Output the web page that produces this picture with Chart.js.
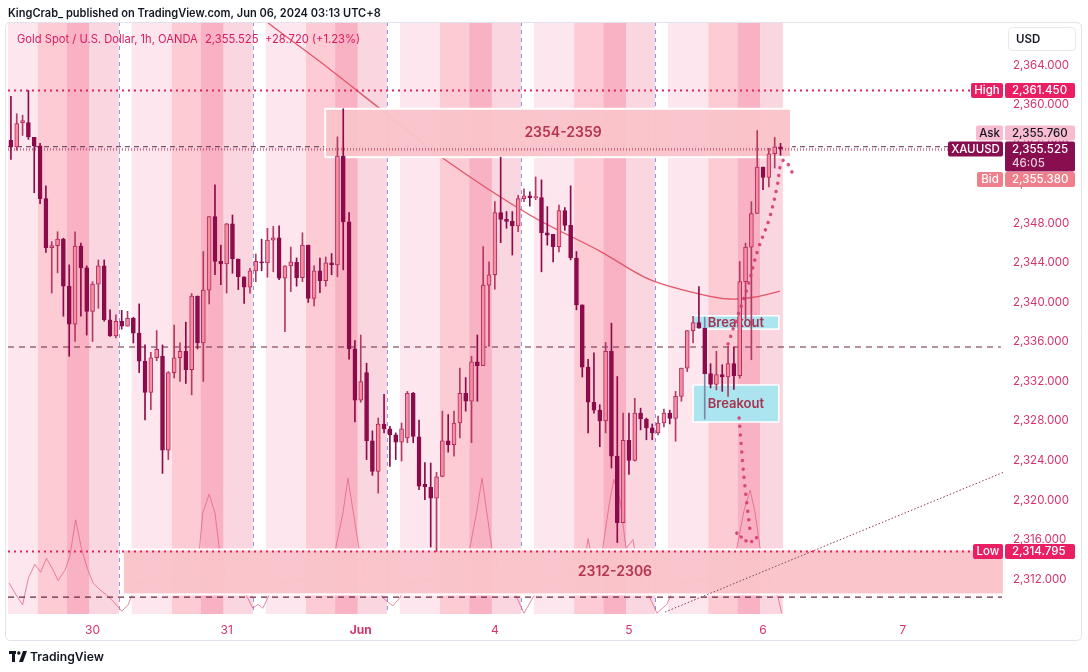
<!DOCTYPE html>
<html><head><meta charset="utf-8">
<script src="https://cdn.jsdelivr.net/npm/chart.js@4.4.1/dist/chart.umd.min.js"></script>
<style>html,body{margin:0;padding:0;background:#fff;}#wrap{width:1088px;height:672px;position:relative;}</style>
</head><body><div id="wrap"><canvas id="c" width="1088" height="672"></canvas></div>
<script>
// ---- OHLC data, 1h candles (index 0 = first visible bar, 132 = current bar) ----
const opens=[2356.4,2355.75,2358.2,2358.2,2356.7,2355.85,2350.5,2345.55,2345.75,2346.4,2341.65,2337.8,2345.7,2343.5,2339.1,2341.85,2343.7,2338.25,2336.6,2338.1,2337.6,2338.4,2336.9,2334.05,2330.9,2334.4,2334.55,2325.05,2332.9,2334.4,2335.05,2333.2,2340.65,2335.9,2341.25,2348.7,2344.15,2343.9,2347.95,2344.4,2342.6,2341.55,2343.2,2344.1,2344.0,2346.3,2346.55,2342.45,2343.7,2344.05,2342.5,2345.8,2340.4,2343.2,2342.2,2344.0,2343.8,2354.8,2348.15,2335.3,2330.1,2332.9,2326.0,2322.9,2327.7,2327.2,2326.6,2325.85,2326.3,2330.8,2326.4,2321.6,2321.3,2320.2,2322.4,2326.0,2325.6,2327.8,2330.8,2330.0,2334.0,2333.6,2341.75,2342.8,2349.1,2348.4,2348.2,2347.75,2350.5,2350.8,2350.6,2350.6,2347.05,2346.9,2345.65,2349.3,2347.8,2344.5,2339.75,2333.45,2329.9,2329.1,2328.0,2335.05,2324.45,2317.7,2326.05,2324.0,2328.8,2328.2,2327.3,2326.8,2327.8,2328.8,2328.25,2330.5,2333.35,2337.15,2337.95,2337.4,2332.8,2331.7,2332.7,2332.45,2333.8,2332.6,2342.1,2345.6,2349.0,2353.7,2352.65,2355.05,2355.75];
const highs=[2360.86,2359.1,2358.95,2361.45,2356.7,2356.1,2351.8,2346.15,2347.15,2346.5,2343.8,2347.15,2346.0,2343.7,2342.1,2344.3,2344.3,2339.25,2338.75,2339.2,2339.1,2338.5,2339.85,2335.7,2334.95,2337.15,2335.7,2333.0,2337.7,2335.9,2338.0,2340.9,2340.65,2345.15,2348.7,2351.9,2345.8,2348.0,2348.85,2344.4,2342.6,2343.45,2344.9,2346.4,2347.5,2347.7,2347.75,2343.7,2345.6,2344.5,2347.05,2345.8,2343.7,2344.5,2344.6,2344.95,2356.75,2359.6,2349.1,2336.15,2336.7,2333.85,2327.0,2328.3,2330.7,2327.45,2326.8,2327.8,2331.0,2330.9,2328.1,2323.8,2323.75,2322.8,2329.0,2328.65,2329.0,2333.35,2332.4,2334.55,2336.7,2345.65,2344.1,2350.2,2354.7,2349.2,2349.2,2350.85,2351.5,2351.2,2352.7,2352.4,2349.7,2346.9,2349.85,2349.6,2351.8,2345.15,2339.75,2334.25,2334.9,2329.65,2335.95,2337.9,2332.5,2328.8,2328.8,2330.3,2329.3,2328.3,2327.7,2328.5,2329.2,2329.1,2331.0,2333.35,2337.15,2338.6,2341.6,2338.5,2333.8,2335.05,2333.7,2335.55,2335.5,2344.15,2346.0,2350.2,2357.4,2353.7,2355.6,2356.7,2356.1];
const lows=[2354.47,2355.4,2356.9,2356.5,2351.1,2350.0,2345.05,2340.95,2343.0,2338.6,2334.55,2336.05,2338.6,2336.7,2336.05,2339.4,2338.1,2336.55,2336.4,2337.3,2337.6,2335.9,2332.9,2328.1,2329.15,2334.1,2322.7,2324.1,2332.35,2332.0,2331.8,2330.65,2335.3,2332.0,2339.85,2342.8,2341.8,2340.95,2342.95,2341.3,2339.9,2340.95,2342.1,2343.2,2342.55,2343.1,2342.3,2337.05,2341.1,2341.65,2342.1,2340.0,2339.65,2341.0,2341.65,2342.8,2342.6,2343.3,2334.25,2327.9,2329.9,2324.1,2322.5,2320.7,2326.8,2323.4,2324.1,2323.95,2325.8,2325.8,2321.05,2320.05,2315.25,2314.795,2322.35,2324.85,2324.45,2326.3,2329.0,2325.8,2330.0,2333.6,2335.55,2341.35,2346.05,2347.5,2344.8,2347.15,2350.2,2349.75,2350.4,2343.1,2345.8,2344.1,2345.1,2347.3,2344.3,2339.25,2332.45,2326.8,2328.8,2325.4,2326.8,2323.25,2315.7,2317.7,2322.6,2323.95,2327.1,2326.1,2326.1,2326.6,2327.4,2327.7,2325.95,2330.0,2333.0,2335.9,2337.4,2328.2,2331.35,2331.15,2331.0,2330.5,2331.2,2332.35,2338.3,2334.2,2349.0,2351.4,2351.7,2353.6,2354.9];
const closes=[2355.75,2358.1,2358.4,2356.75,2355.85,2350.5,2345.55,2345.75,2346.4,2341.65,2337.8,2345.7,2343.5,2339.1,2341.85,2343.7,2338.25,2336.6,2338.1,2337.6,2338.4,2336.9,2334.05,2330.9,2334.4,2335.25,2325.05,2332.9,2334.4,2335.05,2333.2,2340.65,2335.9,2341.25,2348.7,2344.15,2343.9,2347.95,2344.4,2342.6,2341.55,2343.2,2344.15,2344.0,2346.3,2346.55,2342.45,2343.7,2344.1,2342.5,2345.8,2340.4,2343.2,2342.2,2344.0,2343.8,2354.8,2348.15,2335.3,2330.1,2332.0,2326.0,2322.9,2327.7,2327.2,2326.6,2325.85,2327.2,2330.8,2326.45,2321.4,2321.35,2320.2,2322.35,2326.0,2325.6,2327.8,2330.8,2330.0,2334.0,2333.6,2341.75,2342.8,2349.1,2348.4,2348.2,2347.75,2350.5,2350.8,2350.6,2350.65,2347.05,2346.8,2345.65,2349.3,2347.8,2344.5,2339.75,2333.45,2329.9,2329.1,2328.0,2335.05,2324.45,2317.7,2326.05,2324.0,2328.8,2328.2,2327.3,2326.8,2327.8,2328.8,2328.25,2330.5,2333.35,2337.15,2337.95,2337.4,2332.8,2331.7,2332.7,2332.45,2333.8,2332.6,2342.1,2345.6,2349.0,2353.7,2352.65,2355.05,2355.75,2355.525];

// ---- axes ----
const dateTickIdx=[14,37,60,83,106,129,153];
const dateTickText=['30','31','Jun','4','5','6','7'];
const priceTicks=[2312,2316,2320,2324,2328,2332,2336,2340,2344,2348,2352,2356,2360,2364];
const sessionBreaks=[-4.5,18.5,41.5,64.5,87.5,110.5];
const lastBarIdx=132;

// ---- moving average curve ----
const maIdx=[41.5,44.3,52.7,63.1,74.1,89.0,101.0,109.6,118.2,123.3,127.6,131.9];
const maVal=[2369.6,2368.2,2364.5,2359.7,2354.6,2348.85,2345.2,2342.3,2340.85,2340.35,2340.55,2341.15];

// ---- lower indicator line ----
const indIdx=[-0.3,1.0,2.0,3.0,4.1,5.1,6.1,7.2,8.1,9.3,10.1,11.1,12.1,13.1,14.1,15.3,16.4,17.8,19.0,20.1,21.5,31.5,32.3,32.9,34.0,35.0,35.8,37,39.8,40.6,41.5,42.4,43.2,44.4,46,55,55.7,57.0,57.8,58.7,59.7,61,63.0,63.8,65.5,66.7,68,78,78.7,79.9,80.8,81.6,82.5,84,86.0,86.8,88.0,89.5,91,98.3,99.0,99.8,101.5,102.7,103.4,104.5,105.5,106.7,107.5,108.8,109.6,110.8,112.5,114,123.5,124.5,125.7,126.8,127.6,128.5,130,131.6,132.2];
const indVal=[2311.6,2310.3,2309.4,2312.1,2313.5,2312.7,2314.1,2312.95,2311.85,2312.95,2314.3,2318.0,2315.1,2313.1,2311.6,2310.9,2310.4,2309.6,2308.75,2309.4,2311.5,2312.5,2314.8,2318.7,2320.6,2318.7,2314.8,2312.0,2311.0,2310.1,2309.05,2309.45,2309.05,2310.55,2311.5,2312.5,2315.1,2318.85,2322.2,2318.85,2315.1,2312,2311.0,2310.1,2309.3,2310.1,2311.5,2312.5,2315.1,2318.85,2322.2,2318.85,2315.1,2312,2311.0,2310.1,2308.55,2310.1,2311.5,2313.5,2316.1,2313.5,2315.1,2319.9,2322.1,2319.9,2315.1,2316.0,2313,2311.0,2310.1,2308.55,2309.45,2311.5,2312.5,2315.1,2318.85,2321.0,2318.85,2315.1,2312,2310.1,2308.55];

// ---- projection paths ----
const projUpIdx=[123.0,124.5,126.2,128.1,130.0,131.4,132.1,132.8,133.6,134.3];
const projUpVal=[2335.8,2338.4,2341.26,2345.3,2348.34,2351.68,2354.11,2354.42,2353.6,2352.8];
const projDownIdx=[124.9,125.7,126.8];
const projDownVal=[2328.3,2322.53,2316.76];
const projUIdx=[124.5,125.5,126.6,127.6,128.5];
const projUVal=[2316.66,2316.15,2315.75,2316.05,2316.66];

// ---- levels ----
const highLevel=2361.45, lowLevel=2314.795;
const askPrice=2355.76, lastPrice=2355.525, bidPrice=2355.38;
const level1=2335.49, level2=2310.18;
const trendIdx=[112.2,170.2], trendVal=[2308.67,2322.8];

// ---- zones (time index range, price range, label) ----
const zoneTopIdx=[53.9,133.8], zoneTopVal=[2354.7,2359.6], zoneTopText='2354-2359', zoneTopTextIdx=94.7;
const zoneBotIdx=[19.2,170.3], zoneBotVal=[2310.45,2315.0], zoneBotText='2312-2306', zoneBotTextIdx=103.6;
const brk1Idx=[117.0,131.7], brk1Val=[2337.3,2338.65];
const brk2Idx=[117.0,131.7], brk2Val=[2327.9,2331.65];
const breakoutText='Breakout';

const FF='Inter, "Open Sans", Roboto, sans-serif';
const BULL_FILL='#f58ea3', BULL_LINE='#b52a5c', BEAR='#8c0b4a', BULL_WICK='#b43a63';

const pts=(xs,ys)=>xs.map((x,i)=>({x:x,y:ys[i]}));
const hline=(v,a,b)=>[{x:a,y:v},{x:b,y:v}];
const fmt=v=>v.toLocaleString('en-US',{minimumFractionDigits:3,maximumFractionDigits:3});
const isBull=i=>closes[i]>=opens[i];

function rr(ctx,x,y,w,h,r){ctx.beginPath();ctx.moveTo(x+r,y);ctx.lineTo(x+w-r,y);ctx.quadraticCurveTo(x+w,y,x+w,y+r);ctx.lineTo(x+w,y+h-r);ctx.quadraticCurveTo(x+w,y+h,x+w-r,y+h);ctx.lineTo(x+r,y+h);ctx.quadraticCurveTo(x,y+h,x,y+h-r);ctx.lineTo(x,y+r);ctx.quadraticCurveTo(x,y,x+r,y);ctx.closePath();}
function fitSize(ctx,text,weight,target){ctx.font=weight+' 20px '+FF;const w=ctx.measureText(text).width;return 20*target/w;}

function drawBox(chart,ix,pv,fill,stroke,lw){
  const xs=chart.scales.x, ys=chart.scales.y, ctx=chart.ctx;
  const L=xs.getPixelForValue(ix[0]), R=xs.getPixelForValue(ix[1]);
  const T=ys.getPixelForValue(pv[1]), B=ys.getPixelForValue(pv[0]);
  ctx.fillStyle=fill; ctx.fillRect(L,T,R-L,B-T);
  ctx.strokeStyle=stroke; ctx.lineWidth=lw; ctx.strokeRect(L,T,R-L,B-T);
  return {L,R,T,B};
}

function drawZones(chart){
  const ctx=chart.ctx, xs=chart.scales.x, ys=chart.scales.y;
  ctx.save();
  ctx.beginPath();ctx.rect(chart.chartArea.left,chart.chartArea.top,chart.chartArea.right-chart.chartArea.left,chart.chartArea.bottom-chart.chartArea.top);ctx.clip();
  drawBox(chart,zoneTopIdx,zoneTopVal,'rgba(250,196,202,0.96)','#ffffff',2);
  drawBox(chart,zoneBotIdx,zoneBotVal,'rgba(250,196,202,0.96)','#ffffff',2);
  ctx.font='600 14px '+FF; ctx.fillStyle='#b5344f'; ctx.textAlign='center'; ctx.textBaseline='middle';
  ctx.fillText(zoneTopText,xs.getPixelForValue(zoneTopTextIdx),ys.getPixelForValue((zoneTopVal[0]+zoneTopVal[1])/2));
  ctx.fillText(zoneBotText,xs.getPixelForValue(zoneBotTextIdx),ys.getPixelForValue((zoneBotVal[0]+zoneBotVal[1])/2));
  const b1=drawBox(chart,brk1Idx,brk1Val,'rgba(168,229,240,0.97)','#ffffff',1.5);
  const b2=drawBox(chart,brk2Idx,brk2Val,'rgba(168,229,240,0.97)','#ffffff',1.5);
  ctx.font='600 13px '+FF; ctx.fillStyle='#a8324f';
  ctx.fillText(breakoutText,(b1.L+b1.R)/2,(b1.T+b1.B)/2+0.5);
  ctx.fillText(breakoutText,(b2.L+b2.R)/2,(b2.T+b2.B)/2+0.5);
  ctx.restore();
}

const tvPlugin={
  id:'tv',
  beforeDraw(chart){
    const ctx=chart.ctx; ctx.save(); ctx.fillStyle='#fff'; ctx.fillRect(0,0,chart.width,chart.height); ctx.restore();
  },
  beforeDatasetsDraw(chart){
    const ctx=chart.ctx, xs=chart.scales.x, a=chart.chartArea;
    const bands=[[2.2,9.1,'#fde6ed'],[9.1,14.1,'#fccbd4'],[14.1,18.0,'#f8b2c4'],[18.0,23.0,'#fad6e0']];
    ctx.save();
    ctx.beginPath();ctx.rect(a.left,a.top,a.right-a.left,a.bottom-a.top);ctx.clip();
    const endX=xs.getPixelForValue(lastBarIdx+0.4);
    sessionBreaks.forEach(b=>{
      bands.forEach(([s,e,c])=>{
        let L=xs.getPixelForValue(b+s), R=Math.min(xs.getPixelForValue(b+e),endX);
        if(R>L){ctx.fillStyle=c;ctx.fillRect(L,a.top,R-L,a.bottom-a.top);}
      });
    });
    ctx.strokeStyle='rgba(92,120,215,0.75)'; ctx.lineWidth=1; ctx.setLineDash([4,4]);
    sessionBreaks.forEach(b=>{
      const x=Math.round(xs.getPixelForValue(b))+0.5;
      if(x>a.left){ctx.beginPath();ctx.moveTo(x,a.top);ctx.lineTo(x,a.bottom);ctx.stroke();}
    });
    ctx.restore();
  },
  beforeDatasetDraw(chart,args){
    if(chart.data.datasets[args.index]._zonesBefore) drawZones(chart);
  },
  afterDraw(chart){
    const ctx=chart.ctx, ys=chart.scales.y;
    ctx.save();
    // frame
    ctx.strokeStyle='#e0e3eb'; ctx.lineWidth=1; rr(ctx,5.5,22.5,1076,618,5); ctx.stroke();
    // header
    ctx.textBaseline='middle'; ctx.textAlign='left';
    const hdr='KingCrab_ published on TradingView.com, Jun 06, 2024 03:13 UTC+8';
    const hs=fitSize(ctx,hdr,'600',373);
    ctx.font='600 '+hs+'px '+FF; ctx.fillStyle='#131722';
    ctx.fillText(hdr,8,14);
    // title
    const t1='Gold Spot / U.S. Dollar, 1h, OANDA';
    const ts=fitSize(ctx,t1,'400',181);
    ctx.font='400 '+ts+'px '+FF; ctx.fillStyle='#d81b60';
    ctx.fillText(t1,17,40);
    ctx.fillText(fmt(lastPrice),205,40);
    ctx.fillText('+28.720 (+1.23%)',265,40);
    // USD box
    ctx.fillStyle='#fff'; rr(ctx,1008.5,27.5,67,23,4); ctx.fill(); ctx.strokeStyle='#e6e8ee'; ctx.stroke();
    ctx.font='600 11.5px '+FF; ctx.fillStyle='#131722'; ctx.fillText('USD',1016,39.5);
    // price tags
    const tag=(lx,y,h,fill,label,val,tc,extra)=>{
      ctx.fillStyle=fill;
      rr(ctx,lx,y,1003-lx,h,2); ctx.fill();
      rr(ctx,1005,y,70,extra?h+15:h,2); ctx.fill();
      ctx.fillStyle=tc; ctx.font='500 11.5px '+FF;
      ctx.textAlign='center'; ctx.fillText(label,(lx+1003)/2,y+h/2+0.5);
      ctx.textAlign='left'; ctx.fillText(val,1012,y+h/2+0.5);
      if(extra){ctx.fillStyle='rgba(255,255,255,0.8)'; ctx.fillText(extra,1012,y+h/2+15);}
    };
    const yH=ys.getPixelForValue(highLevel), yL=ys.getPixelForValue(lowLevel), yP=ys.getPixelForValue(lastPrice);
    tag(971,yH-7.5,15,'#e91e63','High',fmt(highLevel),'#fff');
    tag(973,yL-7.5,15,'#e91e63','Low',fmt(lowLevel),'#fff');
    tag(976,yP-23.5,15,'#f8bbd0','Ask',fmt(askPrice),'#131722');
    tag(948,yP-7.5,15,'#880e4f','XAUUSD',fmt(lastPrice),'#fff','46:05');
    tag(977,yP+23,15,'#f07f8c','Bid',fmt(bidPrice),'#fff');
    // logo
    ctx.fillStyle='#131722';
    ctx.fillRect(9,651,7,3); ctx.fillRect(12,651,3,11);
    ctx.beginPath(); ctx.arc(18.8,653,1.7,0,Math.PI*2); ctx.fill();
    ctx.beginPath(); ctx.moveTo(19,662); ctx.lineTo(23,651); ctx.lineTo(27,651); ctx.lineTo(23,662); ctx.closePath(); ctx.fill();
    const ls=fitSize(ctx,'TradingView','600',74);
    ctx.font='600 '+ls+'px '+FF; ctx.textAlign='left'; ctx.fillText('TradingView',30,657);
    ctx.restore();
  }
};

const lineDs=(data,color,width,dash,order,extra)=>Object.assign({type:'line',data:data,borderColor:color,borderWidth:width,borderDash:dash||[],pointRadius:0,fill:false,tension:0,order:order},extra||{});

const idx=opens.map((_,i)=>i);
const chart=new Chart(document.getElementById('c'),{
  type:'bar',
  data:{datasets:[
    lineDs(pts(indIdx,indVal),'rgba(226,96,130,0.75)',1,[],30),
    lineDs(pts(maIdx,maVal),'#e2566b',1.3,[],29,{tension:0.35}),
    lineDs(hline(askPrice,-0.5,165.5),'#5e2d42',1,[5,4],28),
    lineDs(hline(lastPrice,-0.5,160.7),'#8a1252',1,[1,2],27,{_zonesBefore:true}),
    lineDs(hline(bidPrice,-0.5,165.7),'#e9838f',1,[1,2],26),
    lineDs(hline(highLevel,-0.5,164.7),'#e0245e',2,[2,4],25),
    lineDs(hline(lowLevel,-0.5,165.0),'#e0245e',2,[2,4],24),
    lineDs(hline(level1,-0.5,169.8),'#6b2840',1.2,[6,5],23),
    lineDs(hline(level2,-0.5,170.0),'#6b2840',1.2,[6,5],22),
    lineDs(pts(trendIdx,trendVal),'#8a3b56',1,[1.5,2],21),
    {type:'bar',label:'wicks',data:idx.map(i=>({x:i,y:[lows[i],highs[i]]})),barThickness:1,grouped:false,order:5,
     backgroundColor:c=>c.dataIndex===119?'#7b86a8':(isBull(c.dataIndex)?BULL_WICK:BEAR),borderWidth:0},
    {type:'bar',label:'bodies',data:idx.map(i=>({x:i,y:[opens[i],closes[i]]})),barThickness:4,grouped:false,order:4,minBarLength:1,
     backgroundColor:c=>isBull(c.dataIndex)?BULL_FILL:BEAR,borderColor:c=>isBull(c.dataIndex)?BULL_LINE:BEAR,borderWidth:1,borderSkipped:false},
    lineDs(pts(projUpIdx,projUpVal),'rgba(214,58,114,0.9)',3.5,[0.01,8],3,{tension:0.4,borderCapStyle:'round'}),
    lineDs(pts(projDownIdx,projDownVal),'rgba(214,58,114,0.9)',3.5,[0.01,8.5],2,{tension:0.3,borderCapStyle:'round'}),
    lineDs(pts(projUIdx,projUVal),'rgba(214,58,114,0.9)',3.5,[0.01,6],1,{tension:0.4,borderCapStyle:'round'})
  ]},
  options:{
    responsive:false,animation:false,devicePixelRatio:1,events:[],
    layout:{padding:{left:8,top:22,right:0,bottom:0}},
    plugins:{legend:{display:false},tooltip:{enabled:false}},
    scales:{
      x:{type:'linear',min:-0.5,max:170.5,offset:false,grid:{display:false,drawTicks:false},border:{display:false},
        afterBuildTicks(s){s.ticks=dateTickIdx.map(v=>({value:v}));},
        afterFit(s){s.height=58;},
        ticks:{autoSkip:false,maxRotation:0,padding:9,color:'#d6336c',
          font:c=>({family:FF,size:12,weight:(c.tick&&dateTickText[dateTickIdx.indexOf(c.tick.value)]==='Jun')?'700':'400'}),
          callback:v=>{const k=dateTickIdx.indexOf(v);return k>=0?dateTickText[k]:'';}}},
      y:{position:'right',min:2308.47,max:2368.38,grid:{display:false,drawTicks:false},border:{display:false},
        afterBuildTicks(s){s.ticks=priceTicks.map(v=>({value:v}));},
        afterFit(s){s.width=83;},
        ticks:{padding:8,color:'#d6336c',font:{family:FF,size:11.5},callback:v=>fmt(v)}}
    }
  },
  plugins:[tvPlugin]
});
</script></body></html>
